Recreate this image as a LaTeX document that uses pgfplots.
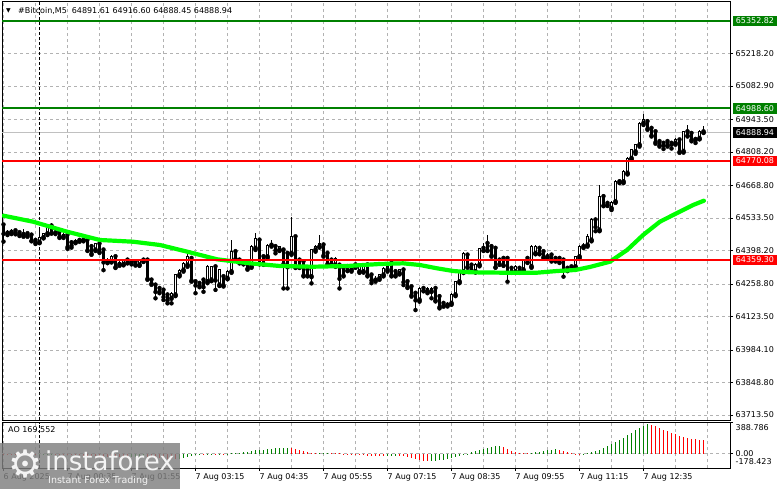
\documentclass[border=0pt]{standalone}
\usepackage{pgfplots}
\pgfplotsset{compat=1.18}
\usepackage{pgfplotstable}
\usepackage{fontspec}
\setmainfont{DejaVu Sans}
\definecolor{mtgreen}{RGB}{0,128,0}
\definecolor{mtlime}{RGB}{0,255,0}
\definecolor{mtred}{RGB}{255,0,0}
\definecolor{gridgray}{RGB}{178,178,178}
\definecolor{pricegray}{RGB}{192,192,192}
\newcommand{\lblfont}{\fontsize{8bp}{9.6bp}\selectfont}

\pgfplotstableread{
i o h l c
0 64504 64510 64435 64469
1 64470 64482 64462 64474
2 64474 64486 64466 64480
3 64480 64484 64465 64472
4 64472 64478 64458 64465
5 64465 64488 64455 64468
6 64468 64472 64455 64462
7 64462 64470 64436 64440
8 64440 64445 64425 64432
9 64432 64496 64428 64452
10 64452 64472 64448 64468
11 64468 64505 64462 64500
12 64500 64511 64468 64472
13 64472 64482 64466 64476
14 64476 64480 64450 64456
15 64456 64472 64450 64466
16 64462 64468 64405 64414
17 64430 64440 64410 64420
18 64432 64446 64428 64440
19 64440 64448 64434 64441
20 64441 64452 64436 64446
21 64441 64450 64396 64400
22 64414 64420 64380 64386
23 64400 64430 64396 64425
24 64425 64428 64388 64393
25 64400 64404 64316 64350
26 64352 64368 64345 64360
27 64352 64378 64348 64372
28 64372 64376 64325 64330
29 64340 64358 64334 64350
30 64340 64364 64336 64358
31 64358 64362 64344 64350
32 64350 64356 64340 64348
33 64350 64356 64335 64340
34 64338 64362 64334 64358
35 64358 64362 64350 64354
36 64358 64362 64276 64282
37 64275 64280 64255 64262
38 64254 64258 64199 64227
39 64240 64246 64220 64228
40 64233 64238 64192 64206
41 64213 64216 64178 64192
42 64199 64225 64178 64220
43 64213 64300 64208 64296
44 64296 64320 64290 64316
45 64316 64350 64310 64344
46 64337 64386 64330 64372
47 64365 64372 64268 64275
48 64268 64272 64220 64254
49 64261 64265 64245 64254
50 64275 64280 64226 64247
51 64268 64336 64262 64330
52 64275 64334 64270 64330
53 64330 64336 64234 64275
54 64254 64322 64250 64317
55 64289 64294 64248 64254
56 64282 64316 64278 64310
57 64310 64441 64305 64393
58 64393 64398 64360 64365
59 64358 64362 64344 64351
60 64344 64358 64340 64351
61 64338 64342 64318 64324
62 64331 64420 64326 64414
63 64407 64470 64400 64448
64 64441 64445 64340 64344
65 64372 64376 64338 64344
66 64372 64426 64366 64420
67 64420 64442 64414 64428
68 64414 64418 64386 64400
69 64400 64418 64396 64414
70 64400 64404 64240 64344
71 64386 64390 64240 64330
72 64386 64538 64380 64455
73 64455 64460 64325 64331
74 64358 64362 64325 64331
75 64351 64356 64290 64296
76 64317 64320 64290 64296
77 64289 64406 64261 64400
78 64400 64420 64393 64414
79 64414 64462 64410 64428
80 64421 64425 64372 64379
81 64386 64390 64338 64344
82 64358 64362 64338 64344
83 64337 64370 64330 64365
84 64337 64341 64240 64282
85 64324 64328 64290 64296
86 64331 64336 64312 64317
87 64317 64342 64310 64338
88 64338 64345 64326 64331
89 64310 64336 64305 64331
90 64310 64342 64306 64338
91 64338 64344 64290 64296
92 64296 64300 64262 64275
93 64275 64290 64268 64282
94 64282 64300 64276 64296
95 64296 64330 64290 64324
96 64317 64336 64310 64331
97 64345 64350 64290 64296
98 64310 64314 64290 64296
99 64303 64322 64298 64317
100 64317 64320 64254 64268
101 64268 64272 64242 64247
102 64247 64250 64206 64213
103 64220 64224 64150 64192
104 64192 64246 64185 64240
105 64240 64244 64228 64233
106 64227 64246 64220 64240
107 64227 64248 64199 64240
108 64240 64244 64186 64192
109 64206 64210 64157 64164
110 64178 64182 64164 64171
111 64171 64184 64165 64178
112 64178 64220 64172 64213
113 64213 64272 64208 64268
114 64268 64316 64262 64310
115 64310 64393 64304 64386
116 64379 64384 64326 64331
117 64337 64340 64312 64317
118 64310 64344 64306 64338
119 64338 64410 64332 64407
120 64407 64427 64396 64400
121 64427 64462 64396 64400
122 64414 64418 64372 64379
123 64407 64412 64326 64330
124 64358 64362 64338 64344
125 64365 64368 64334 64338
126 64365 64368 64268 64310
127 64324 64328 64305 64310
128 64310 64336 64305 64331
129 64324 64328 64305 64310
130 64317 64364 64312 64358
131 64365 64372 64346 64351
132 64331 64420 64326 64414
133 64386 64420 64382 64414
134 64407 64412 64382 64386
135 64393 64396 64366 64372
136 64372 64386 64366 64379
137 64379 64384 64352 64358
138 64365 64368 64352 64358
139 64365 64370 64346 64351
140 64358 64362 64289 64317
141 64324 64328 64312 64317
142 64330 64334 64318 64324
143 64330 64376 64324 64372
144 64372 64420 64365 64413
145 64414 64428 64408 64420
146 64420 64468 64414 64455
147 64441 64532 64436 64525
148 64525 64530 64478 64497
149 64483 64670 64478 64622
150 64622 64628 64582 64587
151 64594 64598 64583 64590
152 64573 64603 64566 64597
153 64601 64690 64596 64684
154 64684 64695 64678 64690
155 64684 64732 64678 64726
156 64719 64786 64714 64781
157 64781 64822 64776 64816
158 64809 64842 64800 64837
159 64837 64932 64830 64927
160 64927 64966 64920 64941
161 64934 64940 64900 64906
162 64906 64910 64872 64878
163 64892 64896 64842 64850
164 64851 64856 64830 64837
165 64844 64850 64820 64837
166 64851 64856 64830 64837
167 64844 64850 64822 64840
168 64844 64864 64838 64858
169 64858 64862 64804 64810
170 64810 64896 64805 64892
171 64892 64920 64872 64878
172 64885 64890 64852 64860
173 64860 64866 64845 64858
174 64864 64900 64860 64892
175 64891.61 64916.60 64888.45 64888.94
}\candles

\pgfplotstableread{
i ma
0 64542.6
7.4 64517.6
15.9 64476.0
24.1 64441.5
32.4 64434.4
39.1 64420.7
45.9 64393.0
53.4 64361.2
60.9 64345.8
69.1 64333.3
77.4 64330.4
85.9 64333.3
94.1 64341.7
99.9 64344.5
104.1 64337.5
108.4 64323.6
112.4 64312.5
116.6 64307.1
124.9 64305.5
133.4 64305.5
138.4 64312.5
142.9 64316.7
146.6 64329.2
151.6 64351.2
155.9 64399.9
159.9 64462.3
164.1 64517.6
168.4 64553.8
172.4 64587.1
175.1 64605.0
}\mavals

\begin{document}
\begin{tikzpicture}[x=1bp,y=1bp,font=\lblfont]
\path[use as bounding box, fill=white] (0bp,0bp) rectangle (781bp,-489bp);

% ---------------- main price panel ----------------
\begin{axis}[
  at={(2bp,-420bp)}, anchor=south west,
  width=728bp, height=419bp, scale only axis,
  xmin=-0.375, xmax=181.625,
  ymin=63692.7, ymax=65435.7,
  scaled x ticks=false, scaled y ticks=false,
  axis line style={black, line width=0.8bp},
  xtick={0,8,...,176}, xticklabels={}, xtick style={draw=none},
  ytick={63713.5,63848.8,63984.1,64123.5,64258.8,64398.2,64533.5,64668.8,64808.2,64943.5,65082.9,65218.2},
  yticklabels={63713.50,63848.80,63984.10,64123.50,64258.80,64398.20,64533.50,64668.80,64808.20,64943.50,65082.90,65218.20},
  ytick pos=right, yticklabel pos=right,
  tick align=outside, major tick length=3bp,
  ytick style={black, line width=0.6bp},
  tick label style={font=\lblfont},
  yticklabel style={anchor=west, inner sep=0pt, xshift=2.5bp},
  grid=major,
  major grid style={gridgray, dash pattern=on 3bp off 3bp, line width=0.6bp},
  clip mode=individual,
]
% current price line
\addplot[pricegray, line width=1bp] coordinates {(-0.375,64888.94) (181.625,64888.94)};
% day separator
\addplot[black, dash pattern=on 3bp off 2bp, line width=0.9bp] coordinates {(9,63692.7) (9,65435.7)};
% wicks
\addplot[only marks, mark=none,
  error bars/.cd, y dir=plus, y explicit, error mark=none,
  error bar style={black, line width=1bp}]
  table[x=i, y=l, y error plus expr=\thisrow{h}-\thisrow{l}] {\candles};
% bodies (outline / bearish fill)
\addplot[only marks, mark=none,
  error bars/.cd, y dir=plus, y explicit, error mark=none,
  error bar style={black, line width=3.2bp}]
  table[x=i, y expr={min(\thisrow{o},\thisrow{c})-2}, y error plus expr={abs(\thisrow{c}-\thisrow{o})+4}] {\candles};
% bullish interior
\addplot[only marks, mark=none,
  error bars/.cd, y dir=plus, y explicit, error mark=none,
  error bar style={white, line width=1.2bp}]
  table[x=i, y expr={\thisrow{o}+2}, y error plus expr={max(\thisrow{c}-\thisrow{o}-4,0)}] {\candles};
% moving average
\addplot[mtlime, line width=4.2bp, line join=round, line cap=round] table[x=i, y=ma] {\mavals};
% level lines
\addplot[mtgreen, line width=2bp] coordinates {(-0.375,65352.82) (181.625,65352.82)};
\addplot[mtgreen, line width=2bp] coordinates {(-0.375,64988.60) (181.625,64988.60)};
\addplot[mtred, line width=2bp] coordinates {(-0.375,64770.08) (181.625,64770.08)};
\addplot[mtred, line width=2bp] coordinates {(-0.375,64359.30) (181.625,64359.30)};
% price boxes
\node[fill=mtgreen, text=white, anchor=west, inner xsep=2.7bp, inner ysep=0pt, minimum height=10.5bp, xshift=3bp] at (axis cs:181.625,65352.82) {65352.82};
\node[fill=mtgreen, text=white, anchor=west, inner xsep=2.7bp, inner ysep=0pt, minimum height=10.5bp, xshift=3bp] at (axis cs:181.625,64988.60) {64988.60};
\node[fill=black, text=white, anchor=west, inner xsep=2.7bp, inner ysep=0pt, minimum height=10.5bp, xshift=3bp] at (axis cs:181.625,64888.94) {64888.94};
\node[fill=mtred, text=white, anchor=west, inner xsep=2.7bp, inner ysep=0pt, minimum height=10.5bp, xshift=3bp] at (axis cs:181.625,64770.08) {64770.08};
\node[fill=mtred, text=white, anchor=west, inner xsep=2.7bp, inner ysep=0pt, minimum height=10.5bp, xshift=3bp] at (axis cs:181.625,64359.30) {64359.30};
\end{axis}

% ---------------- AO panel ----------------
\begin{axis}[
  at={(2bp,-468bp)}, anchor=south west,
  width=728bp, height=45.5bp, scale only axis,
  xmin=-0.375, xmax=181.625,
  ymin=-178.423, ymax=388.786,
  scaled x ticks=false, scaled y ticks=false,
  axis line style={black, line width=0.8bp},
  xtick={0,16,...,160},
  xticklabels={6 Aug 2025,7 Aug 00:35,7 Aug 01:55,7 Aug 03:15,7 Aug 04:35,7 Aug 05:55,7 Aug 07:15,7 Aug 08:35,7 Aug 09:55,7 Aug 11:15,7 Aug 12:35},
  extra x ticks={8,24,...,168,176},
  extra x tick labels={},
  extra x tick style={major tick length=0pt, grid=major},
  xtick pos=bottom, tick align=outside, major tick length=3bp,
  xtick style={black, line width=0.6bp},
  xmajorgrids,
  major grid style={gridgray, dash pattern=on 3bp off 3bp, line width=0.6bp},
  ytick={0,388.786}, yticklabels={}, ytick pos=right,
  ytick style={black, line width=0.6bp},
  tick label style={font=\lblfont},
  xticklabel style={anchor=north west, inner sep=0pt, yshift=-2bp},
  clip mode=individual,
]
\addplot[gridgray, dash pattern=on 3bp off 3bp, line width=0.6bp] coordinates {(-0.375,0) (181.625,0)};
\addplot[black, dash pattern=on 3bp off 2bp, line width=0.9bp] coordinates {(9,-178.423) (9,388.786)};
\addplot[ycomb, mtgreen, line width=1.1bp, mark=none] coordinates {
(6,-11)(9,-13)(10,-12)(11,-10)(12,-8)(32,-43)(33,-42)(34,-41)(35,-41)(44,-63)(45,-55)(46,-42)(47,-30)(48,-20)(49,-14)(51,-15)(52,-11)(54,-8)(56,-4)(57,4)(58,8)(59,14)(60,20)(61,26)(62,32)(63,40)(64,46)(65,52)(66,58)(67,63)(68,66)(69,69)(70,71)(71,73)(79,10)(80,12)(81,14)(96,-27)(97,-25)(98,-23)(107,-94)(108,-89)(109,-83)(110,-76)(111,-68)(112,-58)(113,-46)(114,-32)(115,-16)(116,2)(117,16)(118,30)(119,44)(120,58)(121,70)(122,82)(123,90)(124,95)(132,10)(133,18)(134,26)(135,35)(136,44)(137,51)(138,56)(145,2)(146,6)(147,16)(148,30)(149,50)(150,72)(151,96)(152,120)(153,146)(154,172)(155,200)(156,228)(157,258)(158,290)(159,320)(160,348)(161,370)
};
\addplot[ycomb, mtred, line width=1.1bp, mark=none] coordinates {
(0,-6)(1,-8)(2,-10)(3,-11)(4,-12)(5,-12)(7,-12)(8,-14)(13,-9)(14,-11)(15,-12)(16,-15)(17,-18)(18,-20)(19,-21)(20,-23)(21,-26)(22,-29)(23,-31)(24,-34)(25,-37)(26,-39)(27,-40)(28,-42)(29,-43)(30,-44)(31,-44)(36,-43)(37,-47)(38,-52)(39,-56)(40,-60)(41,-63)(42,-65)(43,-66)(50,-16)(53,-12)(55,-9)(72,68)(73,58)(74,46)(75,34)(76,22)(77,12)(78,8)(82,12)(83,10)(84,6)(85,-2)(86,-8)(87,-12)(88,-16)(89,-20)(90,-22)(91,-24)(92,-26)(93,-27)(94,-28)(95,-29)(99,-25)(100,-30)(101,-40)(102,-55)(103,-70)(104,-84)(105,-93)(106,-97)(125,80)(126,56)(127,34)(128,18)(129,10)(130,6)(131,4)(139,50)(140,38)(141,22)(142,8)(143,2)(144,1)(162,362)(163,345)(164,322)(165,300)(166,280)(167,258)(168,242)(169,226)(170,212)(171,199)(172,189)(173,182)(174,175)(175,169.552)
};
\end{axis}

% AO labels
\node[anchor=west, inner sep=0pt] at (8bp,-430bp) {AO 169.552};
\node[anchor=west, inner sep=0pt] at (735.5bp,-428bp) {388.786};
\node[anchor=west, inner sep=0pt] at (735.5bp,-453.5bp) {0.00};
\node[anchor=west, inner sep=0pt] at (735.5bp,-462bp) {-178.423};

% title
\node[anchor=west, inner sep=0pt, font=\fontsize{6bp}{6bp}\selectfont] at (6bp,-11bp) {▼};
\node[anchor=west, inner sep=0pt] at (18bp,-11bp) {\#Bitcoin,M5\hspace{5bp}64891.61 64916.60 64888.45 64888.94};

% watermark
\fill[black!50, fill opacity=0.82] (0bp,-443bp) rectangle (180bp,-489bp);
\node[anchor=center, inner sep=0pt, text=white, text opacity=0.9, font=\fontsize{38bp}{38bp}\selectfont] at (26bp,-464bp) {⚙};
\node[anchor=base west, inner sep=0pt, text=white, text opacity=0.9, font=\fontsize{26bp}{26bp}\selectfont] at (45bp,-470bp) {instaforex};
\node[anchor=base west, inner sep=0pt, text=white, text opacity=0.9, font=\fontsize{9.5bp}{9.5bp}\selectfont] at (48bp,-483.5bp) {Instant Forex Trading};
\end{tikzpicture}
\end{document}
